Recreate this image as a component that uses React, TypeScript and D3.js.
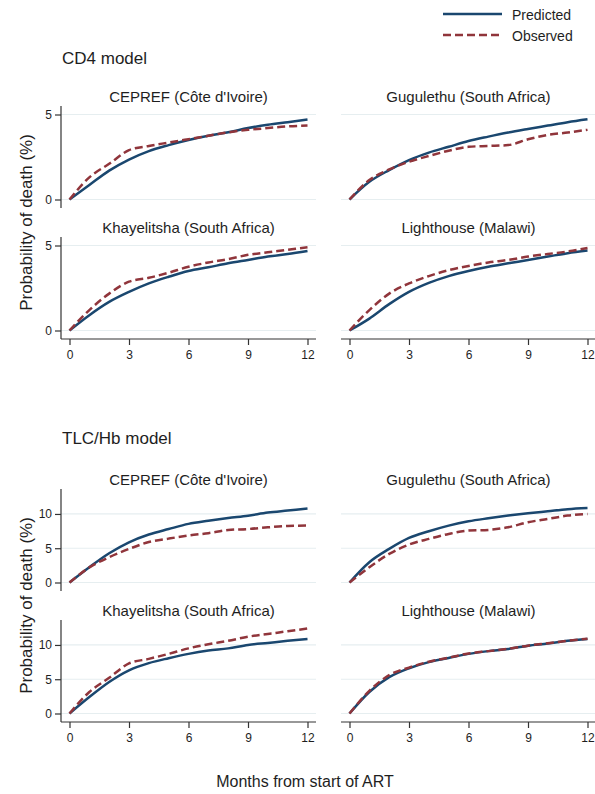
import React, { useRef, useEffect } from 'react';
import * as d3 from 'd3';

const MONTHS = [0, 1, 2, 3, 4, 5, 6, 7, 8, 9, 10, 11, 12];
const X_TICKS = [0, 3, 6, 9, 12];
const CD4_TICKS = [0, 5];
const TLC_TICKS = [0, 5, 10];

const SITES = [
    "CEPREF (Côte d'Ivoire)",
    "Gugulethu (South Africa)",
    "Khayelitsha (South Africa)",
    "Lighthouse (Malawi)"
];

// CD4 model, probability of death (%) by month
const cd4CeprefPred = [0, 0.85, 1.7, 2.35, 2.85, 3.2, 3.5, 3.75, 3.95, 4.2, 4.4, 4.55, 4.7];
const cd4CeprefObs = [0, 1.3, 2.1, 2.9, 3.15, 3.35, 3.55, 3.75, 3.95, 4.1, 4.2, 4.3, 4.35];
const cd4GuguPred = [0, 1.04, 1.73, 2.32, 2.76, 3.1, 3.44, 3.7, 3.94, 4.15, 4.35, 4.55, 4.72];
const cd4GuguObs = [0, 1.14, 1.77, 2.22, 2.56, 2.87, 3.1, 3.15, 3.2, 3.54, 3.8, 3.94, 4.1];
const cd4KhayPred = [0, 0.9, 1.68, 2.27, 2.77, 3.16, 3.5, 3.72, 3.95, 4.15, 4.35, 4.5, 4.68];
const cd4KhayObs = [0, 1.2, 2.17, 2.87, 3.1, 3.4, 3.75, 4.0, 4.2, 4.45, 4.6, 4.75, 4.9];
const cd4LightPred = [0, 0.7, 1.55, 2.27, 2.8, 3.2, 3.5, 3.75, 3.95, 4.15, 4.35, 4.55, 4.7];
const cd4LightObs = [0, 1.2, 2.17, 2.77, 3.2, 3.55, 3.8, 4.0, 4.15, 4.35, 4.5, 4.65, 4.85];

// TLC/Hb model
const tlcCeprefPred = [0, 2.23, 4.27, 5.87, 7.0, 7.8, 8.55, 9.0, 9.4, 9.75, 10.2, 10.5, 10.8];
const tlcCeprefObs = [0, 2.2, 3.7, 4.9, 5.9, 6.4, 6.85, 7.2, 7.65, 7.8, 8.05, 8.25, 8.3];
const tlcGuguPred = [0, 2.96, 4.9, 6.5, 7.48, 8.3, 8.93, 9.37, 9.76, 10.1, 10.4, 10.7, 10.87];
const tlcGuguObs = [0, 2.23, 4.17, 5.53, 6.36, 7.08, 7.57, 7.67, 8.06, 8.79, 9.27, 9.76, 10.0];
const tlcKhayPred = [0, 2.4, 4.6, 6.3, 7.35, 8.07, 8.7, 9.18, 9.5, 10.0, 10.3, 10.6, 10.87];
const tlcKhayObs = [0, 3.14, 5.2, 7.3, 7.97, 8.7, 9.5, 10.1, 10.6, 11.2, 11.6, 12.0, 12.4];
const tlcLightPred = [0, 3.14, 5.3, 6.6, 7.5, 8.1, 8.7, 9.1, 9.4, 9.9, 10.2, 10.6, 10.87];
const tlcLightObs = [0, 3.3, 5.6, 6.7, 7.55, 8.15, 8.75, 9.1, 9.45, 9.9, 10.25, 10.6, 10.9];

const NAVY = "#1a476f";
const MAROON = "#90353b";
const GRID = "#e6eef0";
const TEXT = "#1e1e1e";
const FONT = "'Liberation Sans', Arial, sans-serif";

const App: React.FC = () => {
    const svgRef = useRef<SVGSVGElement>(null);

    useEffect(() => {
        if (!svgRef.current) return;
        const svg = d3.select(svgRef.current);
        svg.selectAll("*").remove();

        const colX = [61, 341];
        const W = 255;
        const H = 102;
        const pad = 8.5;

        const sections = [
            {
                title: "CD4 model", titleY: 63.5, rowTops: [106, 237], yMax: 5, yTicks: CD4_TICKS,
                panels: [
                    { pred: cd4CeprefPred, obs: cd4CeprefObs },
                    { pred: cd4GuguPred, obs: cd4GuguObs },
                    { pred: cd4KhayPred, obs: cd4KhayObs },
                    { pred: cd4LightPred, obs: cd4LightObs }
                ]
            },
            {
                title: "TLC/Hb model", titleY: 443.5, rowTops: [489, 620], yMax: 12.4, yTicks: TLC_TICKS,
                panels: [
                    { pred: tlcCeprefPred, obs: tlcCeprefObs },
                    { pred: tlcGuguPred, obs: tlcGuguObs },
                    { pred: tlcKhayPred, obs: tlcKhayObs },
                    { pred: tlcLightPred, obs: tlcLightObs }
                ]
            }
        ];

        sections.forEach((sec) => {
            svg.append("text")
                .attr("x", 62)
                .attr("y", sec.titleY)
                .attr("fill", TEXT)
                .style("font-size", "17px")
                .text(sec.title);

            const midY = (sec.rowTops[0] + sec.rowTops[1] + H) / 2;
            svg.append("text")
                .attr("transform", `translate(32,${midY}) rotate(-90)`)
                .attr("fill", TEXT)
                .style("text-anchor", "middle")
                .style("font-size", "17px")
                .text("Probability of death (%)");

            sec.panels.forEach((p, i) => {
                const col = i % 2;
                const row = Math.floor(i / 2);
                const x0 = colX[col];
                const top = sec.rowTops[row];

                const xScale = d3.scaleLinear().domain([0, 12]).range([x0 + pad, x0 + W - pad]);
                const yScale = d3.scaleLinear().domain([0, sec.yMax]).range([top + H - pad, top + pad]);

                const g = svg.append("g");

                g.selectAll(".grid")
                    .data(sec.yTicks)
                    .join("line")
                    .attr("x1", x0)
                    .attr("x2", x0 + W)
                    .attr("y1", d => yScale(d))
                    .attr("y2", d => yScale(d))
                    .attr("stroke", GRID)
                    .attr("stroke-width", 1.2);

                g.append("text")
                    .attr("x", x0 + W / 2)
                    .attr("y", top - 4)
                    .attr("fill", TEXT)
                    .style("text-anchor", "middle")
                    .style("font-size", "15px")
                    .text(SITES[i]);

                if (col === 0) {
                    const yAxis = g.append("g")
                        .attr("transform", `translate(${x0},0)`)
                        .call(d3.axisLeft(yScale).tickValues(sec.yTicks).tickSize(6).tickPadding(3).tickFormat(d3.format("d")));
                    yAxis.select(".domain").attr("d", `M0,${top}V${top + H}`);
                }

                if (row === 1) {
                    const xAxis = g.append("g")
                        .attr("transform", `translate(0,${top + H})`)
                        .call(d3.axisBottom(xScale).tickValues(X_TICKS).tickSize(6).tickPadding(5).tickFormat(d3.format("d")));
                    xAxis.select(".domain").attr("d", `M${x0},0H${x0 + W}`);
                }

                g.selectAll(".domain, .tick line").attr("stroke", "#333").attr("stroke-width", 1.2);
                g.selectAll(".tick text")
                    .attr("fill", TEXT)
                    .style("font-size", "12px")
                    .style("font-family", FONT);

                const line = d3.line<number>()
                    .x((_, k) => xScale(MONTHS[k]))
                    .y(d => yScale(d))
                    .curve(d3.curveMonotoneX);

                g.append("path")
                    .attr("d", line(p.pred))
                    .attr("fill", "none")
                    .attr("stroke", NAVY)
                    .attr("stroke-width", 2.5);

                g.append("path")
                    .attr("d", line(p.obs))
                    .attr("fill", "none")
                    .attr("stroke", MAROON)
                    .attr("stroke-width", 2.5)
                    .attr("stroke-dasharray", "8,4");
            });
        });

        svg.append("text")
            .attr("x", 305)
            .attr("y", 786.5)
            .attr("fill", TEXT)
            .style("text-anchor", "middle")
            .style("font-size", "16px")
            .text("Months from start of ART");

        const legend = svg.append("g");
        [
            { label: "Predicted", color: NAVY, dash: null, y: 14 },
            { label: "Observed", color: MAROON, dash: "8,4", y: 35 }
        ].forEach((item) => {
            legend.append("line")
                .attr("x1", 443)
                .attr("x2", 502)
                .attr("y1", item.y)
                .attr("y2", item.y)
                .attr("stroke", item.color)
                .attr("stroke-width", 2.5)
                .attr("stroke-dasharray", item.dash);
            legend.append("text")
                .attr("x", 512)
                .attr("y", item.y + 5.5)
                .attr("fill", TEXT)
                .style("font-size", "14px")
                .text(item.label);
        });
    }, []);

    return (
        <svg
            ref={svgRef}
            width={595}
            height={794}
            style={{ position: 'absolute', left: 0, top: 0, background: '#fff', fontFamily: FONT }}
        />
    );
};

export default App;
